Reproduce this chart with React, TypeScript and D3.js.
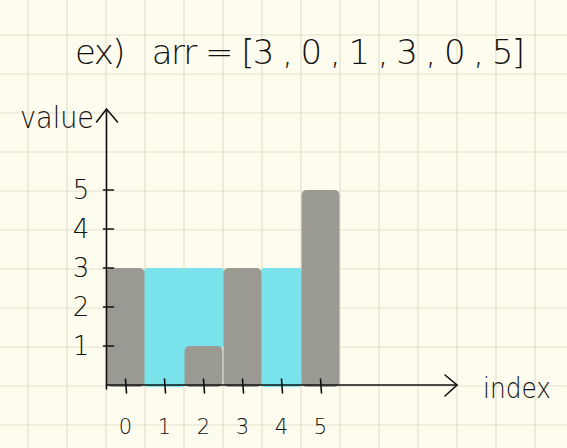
import React from "react";
import * as d3 from "d3";

const title = "ex)   arr = [3 , 0 , 1 , 3 , 0 , 5]";
const indices = ["0", "1", "2", "3", "4", "5"];
const heights = [3, 0, 1, 3, 0, 5];
const water = [0, 3, 2, 0, 3, 0];
const yTicks = [1, 2, 3, 4, 5];

const W = 567;
const H = 448;
const hand = "'DejaVu Sans ExtraLight', 'DejaVu Sans', sans-serif";

export default function App() {
  const x = d3.scaleBand<string>().domain(indices).range([106, 340]).padding(0);
  const y = d3.scaleLinear().domain([0, 5]).range([385, 190]);

  const origin = { x: 106.5, y: y(0) };
  const gridX = d3.range(28, W, 39);
  const gridY = d3.range(35, H, 39);

  return (
    <svg
      width={W}
      height={H}
      style={{ position: "absolute", left: 0, top: 0, display: "block" }}
    >
      <rect width={W} height={H} fill="#fefcef" />
      <g stroke="#e4e0cd" strokeWidth={1.2}>
        {gridX.map((gx) => (
          <line key={"gx" + gx} x1={gx} x2={gx} y1={0} y2={H} />
        ))}
        {gridY.map((gy) => (
          <line key={"gy" + gy} x1={0} x2={W} y1={gy} y2={gy} />
        ))}
      </g>

      <text
        x={75}
        y={64}
        fontFamily={hand}
        fontWeight={200}
        fontSize={34}
        fill="#111"
        textLength={450}
        lengthAdjust="spacing"
        style={{ whiteSpace: "pre" }}
      >
        {title}
      </text>

      {/* water */}
      {indices.map((d, i) =>
        water[i] > 0 ? (
          <rect
            key={"w" + d}
            x={(x(d) as number) - 1}
            y={y(heights[i] + water[i])}
            width={x.bandwidth() + 2}
            height={y(heights[i]) - y(heights[i] + water[i]) + 2}
            rx={4}
            fill="#79e2ea"
          />
        ) : null
      )}

      {/* bars */}
      {indices.map((d, i) =>
        heights[i] > 0 ? (
          <rect
            key={"b" + d}
            x={(x(d) as number) + 0.5}
            y={y(heights[i])}
            width={x.bandwidth() - 1}
            height={y(0) - y(heights[i]) + 2}
            rx={5}
            fill="#9b9a92"
          />
        ) : null
      )}

      {/* axes */}
      <g stroke="#111" strokeWidth={1.6} fill="none" strokeLinecap="round">
        <line x1={origin.x} y1={origin.y + 4} x2={origin.x} y2={110} />
        <polyline points={`${origin.x - 10},122 ${origin.x},109 ${origin.x + 11},122`} />
        <line x1={origin.x} y1={origin.y} x2={457} y2={origin.y} />
        <polyline points={`445,375 457,385 445,396`} />
        {yTicks.map((t) => (
          <line key={"yt" + t} x1={origin.x - 3} x2={origin.x + 7} y1={y(t)} y2={y(t)} />
        ))}
        {indices.map((d) => {
          const cx = (x(d) as number) + x.bandwidth() / 2;
          return <line key={"xt" + d} x1={cx} x2={cx + 1} y1={379} y2={393} />;
        })}
      </g>

      <g fontFamily={hand} fontWeight={200} fill="#111">
        {yTicks.map((t) => (
          <text
            key={"yl" + t}
            x={81}
            y={y(t)}
            dy="0.35em"
            textAnchor="middle"
            fontSize={26}
          >
            {t}
          </text>
        ))}
        {indices.map((d) => (
          <text
            key={"xl" + d}
            x={(x(d) as number) + x.bandwidth() / 2}
            y={434}
            textAnchor="middle"
            fontSize={21}
          >
            {d}
          </text>
        ))}
        <text x={20} y={128} fontSize={30} textLength={74} lengthAdjust="spacingAndGlyphs">
          value
        </text>
        <text x={483} y={398} fontSize={29} textLength={68} lengthAdjust="spacingAndGlyphs">
          index
        </text>
      </g>
    </svg>
  );
}
